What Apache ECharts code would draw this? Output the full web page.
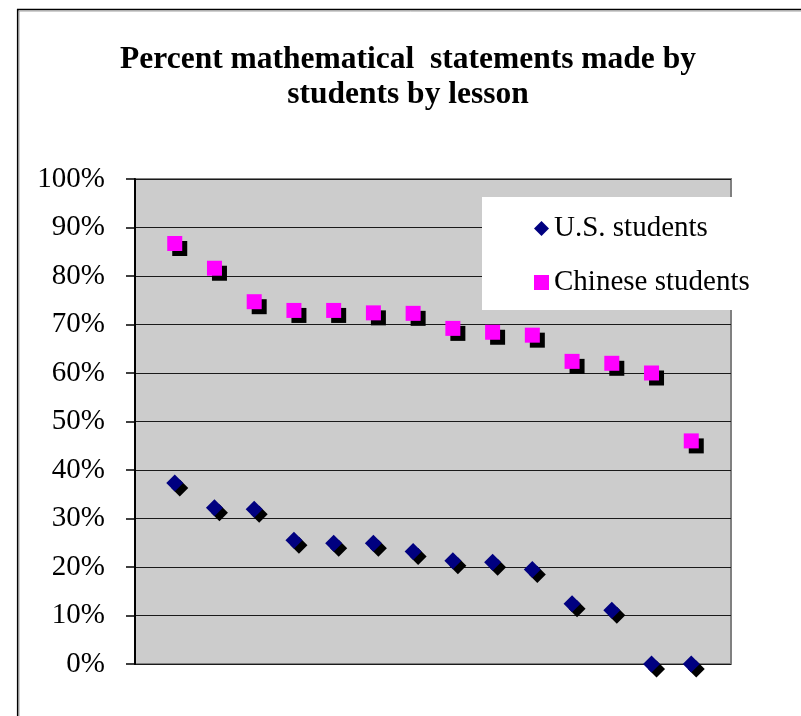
<!DOCTYPE html>
<html>
<head>
<meta charset="utf-8">
<style>
  html, body { margin: 0; padding: 0; background: #ffffff; }
  #chart { width: 801px; height: 716px; }
</style>
<script src="https://cdn.jsdelivr.net/npm/echarts@6/dist/echarts.min.js"></script>
</head>
<body>
<div id="chart"></div>
<script>
// Lesson index (lessons ordered by share of Chinese students' statements)
const lessons = [1, 2, 3, 4, 5, 6, 7, 8, 9, 10, 11, 12, 13, 14];
// Percent of mathematical statements made by students, per lesson
const usStudents = [37.3, 32.2, 31.9, 25.5, 24.9, 24.9, 23.2, 21.3, 21.0, 19.5, 12.4, 11.1, 0, 0];
const chineseStudents = [86.7, 81.6, 74.7, 72.9, 72.9, 72.4, 72.3, 69.2, 68.4, 67.8, 62.4, 62.0, 60.0, 46.0];
const seriesNames = ['U.S. students', 'Chinese students'];
const titleLines = ['Percent mathematical  statements made by', 'students by lesson'];

const serif = '"Liberation Serif", "Times New Roman", serif';
const toPairs = vals => lessons.map((l, i) => [l, vals[i] / 100]);

const chart = echarts.init(document.getElementById('chart'), null, { renderer: 'canvas' });

chart.setOption({
  backgroundColor: '#ffffff',
  animation: false,
  title: {
    text: titleLines.join('\n'),
    left: 403,
    textAlign: 'center',
    top: 37,
    textStyle: {
      fontFamily: serif,
      fontWeight: 'bold',
      fontSize: 31.5,
      lineHeight: 35,
      color: '#000000'
    }
  },
  graphic: [
    {
      type: 'rect',
      shape: { x: 17.7, y: 9.5, width: 820, height: 740 },
      style: { fill: null, stroke: '#000000', lineWidth: 1.6 },
      silent: true
    },
    {
      type: 'rect',
      shape: { x: 19, y: 11, width: 820, height: 740 },
      style: { fill: null, stroke: '#a0a0a0', lineWidth: 1 },
      silent: true
    }
  ],
  grid: {
    left: 135,
    top: 179,
    width: 596,
    height: 485,
    show: true,
    backgroundColor: '#cccccc',
    borderColor: '#808080',
    borderWidth: 2
  },
  legend: {
    data: seriesNames,
    orient: 'vertical',
    left: 482,
    top: 197,
    backgroundColor: '#ffffff',
    padding: [17, 10, 13, 52],
    itemGap: 25,
    itemWidth: 15,
    itemHeight: 15,
    itemStyle: { opacity: 1, shadowColor: 'rgba(0,0,0,0)', shadowOffsetX: 0, shadowOffsetY: 0, shadowBlur: 0 },
    textStyle: { fontFamily: serif, fontSize: 29, color: '#000000' }
  },
  xAxis: {
    type: 'value',
    min: 0,
    max: 15,
    axisLine: { show: false },
    axisTick: { show: false },
    axisLabel: { show: false },
    splitLine: { show: false }
  },
  yAxis: {
    type: 'value',
    min: 0,
    max: 1,
    interval: 0.1,
    axisLine: { show: true, lineStyle: { color: '#000000', width: 2 } },
    axisTick: { show: true, inside: false, length: 9, lineStyle: { color: '#000000', width: 1.5 } },
    axisLabel: {
      margin: 30,
      fontFamily: serif,
      fontSize: 29,
      color: '#000000',
      formatter: v => Math.round(v * 100) + '%'
    },
    splitLine: { show: true, lineStyle: { color: '#1a1a1a', width: 1.2 } }
  },
  series: [
    {
      name: seriesNames[0],
      type: 'scatter',
      clip: false,
      symbol: 'diamond',
      symbolSize: 17,
      data: toPairs(usStudents),
      itemStyle: {
        color: '#000080',
        opacity: 1,
        shadowColor: '#000000',
        shadowOffsetX: 5,
        shadowOffsetY: 5,
        shadowBlur: 0
      }
    },
    {
      name: seriesNames[1],
      type: 'scatter',
      clip: false,
      symbol: 'rect',
      symbolSize: 15,
      data: toPairs(chineseStudents),
      itemStyle: {
        color: '#ff00ff',
        opacity: 1,
        shadowColor: '#000000',
        shadowOffsetX: 5,
        shadowOffsetY: 5,
        shadowBlur: 0
      }
    }
  ]
});
</script>
</body>
</html>
